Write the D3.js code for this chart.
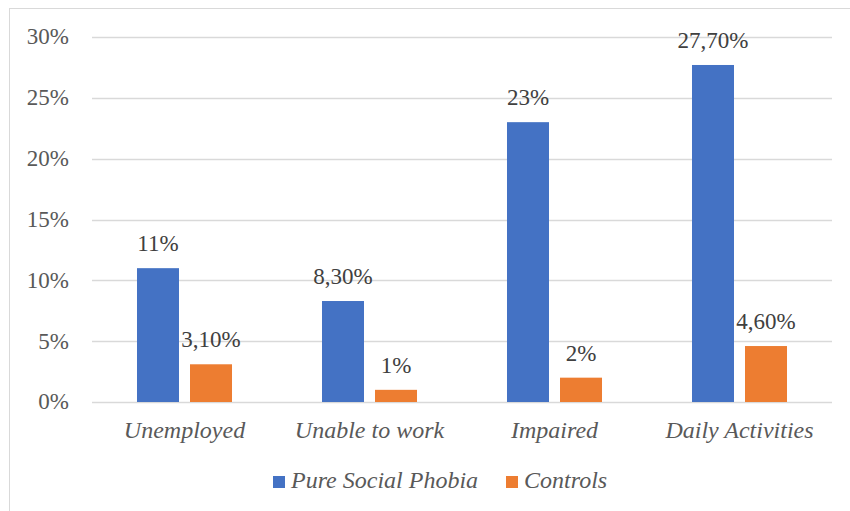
<!DOCTYPE html>
<html>
<head>
<meta charset="utf-8">
<script src="https://cdn.jsdelivr.net/npm/d3@7"></script>
</head>
<body style="margin:0">
<svg id="chart" width="850" height="511" style="display:block"></svg>
<script>
// Outcome categories and the two groups compared
const categories = ["Unemployed", "Unable to work", "Impaired", "Daily Activities"];
const seriesNames = ["Pure Social Phobia", "Controls"];
const phobiaValues = [11, 8.3, 23, 27.7];
const controlValues = [3.1, 1, 2, 4.6];
const phobiaLabels = ["11%", "8,30%", "23%", "27,70%"];
const controlLabels = ["3,10%", "1%", "2%", "4,60%"];
const yTicks = [0, 5, 10, 15, 20, 25, 30];
const colors = ["#4472C4", "#ED7D31"];
const serif = "Liberation Serif";

const svg = d3.select("#chart");

// Chart frame
svg.append("rect")
  .attr("x", 9.5).attr("y", 8.5)
  .attr("width", 860).attr("height", 520)
  .attr("fill", "none").attr("stroke", "#d9d9d9").attr("stroke-width", 1);

const plot = { left: 92, right: 832, top: 37, bottom: 402 };

const x0 = d3.scaleBand().domain(categories).range([plot.left, plot.right]).paddingInner(0).paddingOuter(0);
const x1 = d3.scaleBand().domain(seriesNames).range([0, x0.bandwidth()]).paddingInner(0.2075).paddingOuter(0.849);
const y = d3.scaleLinear().domain([0, 30]).range([plot.bottom, plot.top]);

// Gridlines
yTicks.forEach(t => {
  svg.append("line")
    .attr("x1", plot.left).attr("x2", plot.right)
    .attr("y1", Math.round(y(t)) + 0.5).attr("y2", Math.round(y(t)) + 0.5)
    .attr("stroke", "#d9d9d9").attr("stroke-width", 1.3);
});

// Y axis labels
yTicks.forEach(t => {
  svg.append("text")
    .attr("x", 69).attr("y", y(t)).attr("dy", "0.32em")
    .attr("text-anchor", "end")
    .attr("font-family", serif).attr("font-size", 23)
    .attr("fill", "#595959")
    .text(t + "%");
});

// Bars and value labels
const series = [
  { name: seriesNames[0], values: phobiaValues, labels: phobiaLabels, color: colors[0] },
  { name: seriesNames[1], values: controlValues, labels: controlLabels, color: colors[1] }
];

series.forEach(s => {
  categories.forEach((c, i) => {
    const bx = x0(c) + x1(s.name);
    svg.append("rect")
      .attr("x", bx)
      .attr("width", x1.bandwidth())
      .attr("y", y(s.values[i]))
      .attr("height", y(0) - y(s.values[i]))
      .attr("fill", s.color);
    svg.append("text")
      .attr("x", bx + x1.bandwidth() / 2)
      .attr("y", y(s.values[i]) - 17)
      .attr("text-anchor", "middle")
      .attr("font-family", serif).attr("font-size", 23)
      .attr("fill", "#404040")
      .text(s.labels[i]);
  });
});

// Category labels
categories.forEach(c => {
  svg.append("text")
    .attr("x", x0(c) + x0.bandwidth() / 2)
    .attr("y", plot.bottom + 36)
    .attr("text-anchor", "middle")
    .attr("font-family", serif).attr("font-size", 24)
    .attr("font-style", "italic")
    .attr("fill", "#595959")
    .text(c);
});

// Legend
const legendX = [273, 506];
series.forEach((s, i) => {
  svg.append("rect")
    .attr("x", legendX[i]).attr("y", 476)
    .attr("width", 12).attr("height", 12)
    .attr("fill", s.color);
  svg.append("text")
    .attr("x", legendX[i] + 18).attr("y", 488)
    .attr("font-family", serif).attr("font-size", 24)
    .attr("font-style", "italic")
    .attr("fill", "#595959")
    .text(s.name);
});
</script>
</body>
</html>
